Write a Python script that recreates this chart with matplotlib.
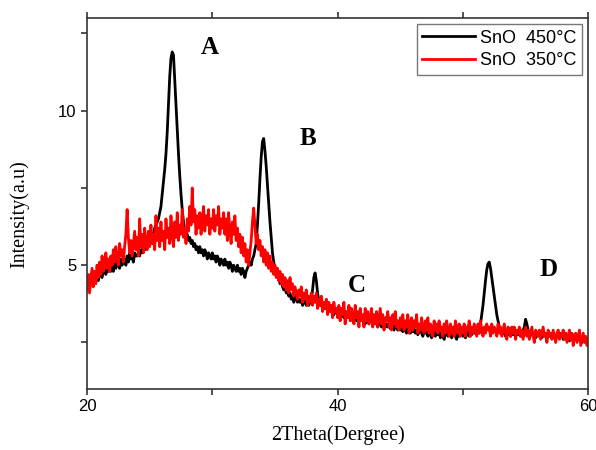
import matplotlib
matplotlib.use("Agg")
import matplotlib.pyplot as plt
import numpy as np

# 2theta sampling grid, 20..60 deg in 0.1 deg steps
two_theta = np.round(np.arange(200, 601) * 0.1, 1)

# SnO 450 C (black), one row per degree
snO_450 = [
    4.3, 4.6, 4.4, 4.7, 4.5, 4.4, 4.7, 4.6, 4.8, 4.5,          # 20
    4.7, 4.9, 4.6, 4.8, 5.0, 4.7, 4.9, 4.8, 5.1, 4.8,          # 21
    5.0, 4.8, 5.1, 4.9, 5.2, 5.0, 4.9, 5.2, 5.0, 5.1,          # 22
    5.2, 5.0, 5.3, 5.1, 5.4, 5.2, 5.3, 5.1, 5.4, 5.3,          # 23
    5.3, 5.4, 5.3, 5.5, 5.4, 5.6, 5.5, 5.7, 5.6, 5.8,          # 24
    5.7, 5.9, 5.8, 6.0, 6.2, 6.3, 6.4, 6.5, 6.7, 6.9,          # 25
    7.3, 7.7, 8.1, 8.6, 9.3, 10.2, 11.1, 11.7, 11.9, 11.8,     # 26
    11.0, 10.2, 9.4, 8.6, 7.9, 7.3, 6.8, 6.4, 6.1, 6.0,        # 27
    6.0, 5.8, 5.9, 5.7, 5.8, 5.6, 5.7, 5.5, 5.6, 5.4,          # 28
    5.6, 5.4, 5.5, 5.3, 5.5, 5.4, 5.2, 5.4, 5.3, 5.2,          # 29
    5.4, 5.2, 5.3, 5.1, 5.3, 5.2, 5.0, 5.2, 5.1, 5.0,          # 30
    5.2, 5.0, 5.1, 4.9, 5.1, 5.0, 4.8, 5.0, 4.9, 4.8,          # 31
    5.0, 4.8, 4.9, 4.7, 4.9, 4.8, 4.6, 4.8, 4.9, 5.0,          # 32
    5.1, 5.0, 5.2, 5.3, 5.5, 5.7, 6.3, 7.0, 7.8, 8.5,          # 33
    9.0, 9.1, 8.7, 8.2, 7.6, 7.0, 6.4, 5.9, 5.4, 5.1,          # 34
    4.9, 4.8, 4.6, 4.7, 4.4, 4.5, 4.3, 4.2, 4.3, 4.1,          # 35
    4.2, 4.0, 4.1, 3.9, 4.0, 3.8, 4.0, 3.9, 3.8, 3.9,          # 36
    3.8, 3.9, 3.7, 3.8, 3.9, 3.7, 3.8, 3.7, 3.8, 3.9,          # 37
    4.2, 4.6, 4.75, 4.5, 4.1, 3.85, 3.7, 3.8, 3.6, 3.7,        # 38
    3.6, 3.7, 3.5, 3.6, 3.7, 3.5, 3.6, 3.4, 3.6, 3.5,          # 39
    3.4, 3.5, 3.6, 3.4, 3.5, 3.3, 3.5, 3.4, 3.3, 3.5,          # 40
    3.3, 3.4, 3.2, 3.4, 3.3, 3.2, 3.4, 3.3, 3.2, 3.3,          # 41
    3.2, 3.3, 3.1, 3.3, 3.2, 3.1, 3.3, 3.2, 3.1, 3.2,          # 42
    3.1, 3.2, 3.0, 3.2, 3.1, 3.0, 3.2, 3.1, 3.0, 3.1,          # 43
    3.0, 3.1, 2.95, 3.1, 3.0, 2.9, 3.1, 3.0, 2.9, 3.0,         # 44
    2.9, 3.0, 2.85, 3.0, 2.9, 2.8, 3.0, 2.9, 2.8, 2.9,         # 45
    2.85, 2.95, 2.8, 2.9, 2.75, 2.85, 2.95, 2.8, 2.7, 2.85,    # 46
    2.8, 2.9, 2.7, 2.85, 2.75, 2.65, 2.8, 2.9, 2.7, 2.8,       # 47
    2.75, 2.85, 2.65, 2.8, 2.7, 2.6, 2.8, 2.85, 2.7, 2.75,     # 48
    2.8, 2.65, 2.75, 2.85, 2.7, 2.6, 2.8, 2.7, 2.85, 2.75,     # 49
    2.7, 2.8, 2.65, 2.75, 2.85, 2.7, 2.8, 2.75, 2.9, 2.8,      # 50
    2.85, 2.75, 2.9, 2.8, 3.1, 3.4, 3.7, 4.1, 4.5, 4.85,       # 51
    5.05, 5.1, 4.9, 4.6, 4.3, 4.0, 3.7, 3.4, 3.2, 3.0,         # 52
    2.85, 2.75, 2.9, 2.8, 2.7, 2.85, 2.75, 2.8, 2.7, 2.85,     # 53
    2.75, 2.8, 2.7, 2.85, 2.75, 2.8, 2.7, 2.8, 2.9, 3.0,       # 54
    3.25, 3.1, 2.9, 2.8, 2.75, 2.85, 2.7, 2.8, 2.65, 2.75,     # 55
    2.8, 2.7, 2.85, 2.65, 2.75, 2.8, 2.7, 2.6, 2.75, 2.7,      # 56
    2.8, 2.65, 2.75, 2.7, 2.6, 2.75, 2.8, 2.65, 2.7, 2.75,     # 57
    2.6, 2.7, 2.8, 2.65, 2.7, 2.55, 2.7, 2.75, 2.6, 2.7,       # 58
    2.65, 2.55, 2.7, 2.6, 2.65, 2.5, 2.65, 2.6, 2.55, 2.6,     # 59
    2.6,                                                       # 60
]

# SnO 350 C (red)
snO_350 = [
    4.2, 4.7, 4.1, 4.5, 4.9, 4.3, 4.8, 4.4, 5.0, 4.6,   # 20
    5.1, 4.7, 5.3, 4.8, 5.0, 5.4, 4.9, 5.2, 4.8, 5.3,   # 21
    5.0, 5.5, 5.1, 5.6, 5.2, 5.0, 5.7, 5.3, 5.5, 5.1,   # 22
    5.6, 6.0, 6.8, 5.9, 5.4, 5.8, 5.3, 5.7, 6.1, 5.5,   # 23
    5.9, 5.3, 6.5, 5.6, 6.0, 5.4, 6.2, 5.7, 5.5, 6.1,   # 24
    5.6, 6.3, 5.7, 6.0, 5.5, 6.6, 5.8, 6.2, 5.6, 6.4,   # 25
    5.8, 6.1, 5.5, 6.5, 5.9, 6.2, 5.7, 6.6, 6.0, 5.6,   # 26
    6.4, 5.9, 6.7, 5.8, 6.3, 6.0, 6.8, 5.9, 6.2, 5.7,   # 27
    6.5, 6.1, 6.9, 6.3, 7.5, 6.4, 6.8, 6.0, 6.6, 6.2,   # 28
    6.7, 6.0, 6.5, 6.9, 6.1, 6.6, 6.3, 6.8, 6.0, 6.5,   # 29
    6.2, 6.8, 6.1, 6.6, 6.3, 6.9, 6.0, 6.5, 6.2, 6.7,   # 30
    6.0, 6.5, 5.8, 6.7, 6.1, 5.7, 6.4, 6.0, 6.6, 5.8,   # 31
    6.2, 5.6, 6.0, 5.4, 5.9, 5.3, 5.7, 5.1, 5.5, 5.0,   # 32
    5.4, 5.8, 6.4, 6.85, 6.3, 5.7, 6.0, 5.5, 5.8, 5.3,  # 33
    5.6, 5.1, 5.5, 5.0, 5.4, 4.9, 5.3, 4.8, 5.1, 4.7,   # 34
    5.0, 4.6, 4.9, 4.5, 4.8, 4.4, 4.7, 4.3, 4.6, 4.2,   # 35
    4.5, 4.1, 4.6, 4.2, 4.4, 4.0, 4.3, 4.1, 3.9, 4.2,   # 36
    4.0, 4.3, 3.8, 4.1, 3.9, 4.2, 3.7, 4.0, 3.8, 4.1,   # 37
    3.7, 4.0, 3.8, 4.1, 3.6, 3.9, 3.7, 4.0, 3.5, 3.8,   # 38
    3.6, 3.9, 3.4, 3.8, 3.5, 3.7, 3.3, 3.8, 3.5, 3.6,   # 39
    3.3, 3.7, 3.2, 3.6, 3.4, 3.8, 3.1, 3.5, 3.3, 3.7,   # 40
    3.2, 3.6, 3.4, 3.1, 3.7, 3.3, 3.5, 3.0, 3.6, 3.2,   # 41
    3.4, 3.0, 3.6, 3.2, 3.5, 3.1, 3.3, 3.6, 3.0, 3.4,   # 42
    3.1, 3.5, 3.0, 3.3, 3.6, 3.1, 3.4, 2.9, 3.3, 3.2,   # 43
    3.5, 3.0, 3.3, 2.9, 3.4, 3.1, 3.5, 3.0, 3.2, 2.9,   # 44
    3.3, 3.0, 3.4, 2.9, 3.2, 3.0, 3.4, 2.8, 3.1, 3.3,   # 45
    2.9, 3.2, 3.0, 3.4, 2.8, 3.1, 2.9, 3.3, 3.0, 2.8,   # 46
    3.2, 2.9, 3.3, 2.8, 3.1, 3.0, 2.7, 3.2, 2.9, 3.1,   # 47
    2.8, 3.2, 2.9, 3.0, 2.7, 3.1, 2.8, 3.2, 2.9, 2.7,   # 48
    3.1, 2.8, 3.0, 2.7, 3.2, 2.9, 2.8, 3.1, 2.7, 3.0,   # 49
    2.8, 3.1, 2.7, 3.0, 2.9, 3.2, 2.7, 3.0, 2.8, 3.1,   # 50
    2.9, 2.7, 3.1, 2.8, 3.2, 2.9, 2.7, 3.0, 2.8, 3.1,   # 51
    2.9, 3.0, 2.7, 3.1, 2.8, 3.0, 2.9, 2.7, 3.1, 2.8,   # 52
    3.0, 2.7, 2.9, 3.1, 2.8, 2.6, 3.0, 2.9, 2.7, 3.0,   # 53
    2.8, 3.0, 2.6, 2.9, 2.8, 3.0, 2.7, 2.9, 2.6, 2.8,   # 54
    3.0, 2.7, 2.9, 2.6, 2.8, 3.0, 2.7, 2.5, 2.9, 2.8,   # 55
    2.7, 2.9, 2.6, 2.8, 3.0, 2.7, 2.8, 2.5, 2.9, 2.7,   # 56
    2.8, 2.6, 2.9, 2.7, 2.5, 2.8, 2.9, 2.6, 2.8, 2.7,   # 57
    2.9, 2.6, 2.8, 2.5, 2.7, 2.9, 2.6, 2.8, 2.4, 2.7,   # 58
    2.8, 2.5, 2.7, 2.9, 2.4, 2.6, 2.8, 2.5, 2.7, 2.4,   # 59
    2.6,                                                # 60
]

peak_labels = ["A", "B", "C", "D"]
peak_pos = [(29.8, 12.05), (37.6, 9.1), (41.5, 4.35), (56.8, 4.85)]

sans = "Liberation Sans"
serif = "Liberation Serif"

fig = plt.figure(figsize=(5.96, 4.5), dpi=100)
ax = fig.add_axes([0.146, 0.136, 0.841, 0.824])

ax.plot(two_theta, snO_450, color="black", lw=2.0, label="SnO  450\u00b0C")
ax.plot(two_theta, snO_350, color="#ff0000", lw=2.0, label="SnO  350\u00b0C")

for lab, (px, py) in zip(peak_labels, peak_pos):
    ax.text(px, py, lab, fontsize=18, fontweight="bold", family=serif,
            ha="center", va="center")

ax.set_xlim(20, 60)
ax.set_ylim(1, 13)
ax.set_xticks([20, 30, 40, 50, 60])
ax.set_xticklabels(["20", "", "40", "", "60"])
ax.set_yticks([2.5, 5, 7.5, 10, 12.5])
ax.set_yticklabels(["", "5", "", "10", ""])
ax.tick_params(direction="out", length=4, width=1.2, color="#333333",
               labelsize=12, top=True, right=False, labeltop=False)
for t in ax.get_xticklabels() + ax.get_yticklabels():
    t.set_family(sans)

for sp in ax.spines.values():
    sp.set_color("#333333")
    sp.set_linewidth(1.2)

ax.set_xlabel("2Theta(Dergree)", family=serif, fontsize=14.5, labelpad=8)
ax.set_ylabel("Intensity(a.u)", family=serif, fontsize=14.5)
ax.yaxis.set_label_coords(-0.116, 0.47)

leg = ax.legend(loc="upper right", prop={"family": sans, "size": 13},
                fancybox=False, edgecolor="#555555", handlelength=2.9,
                borderaxespad=0.35, borderpad=0.3, labelspacing=0.3,
                handletextpad=0.3)
leg.get_frame().set_linewidth(1.0)

fig.savefig("out.png", dpi=100)
